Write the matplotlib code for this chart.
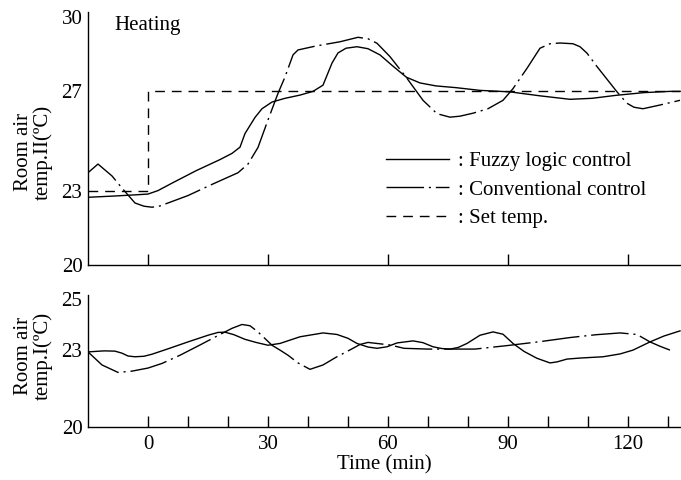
import matplotlib
matplotlib.use("Agg")
import matplotlib.pyplot as plt
from matplotlib.lines import Line2D

plt.rcParams['font.family'] = ['Liberation Serif', 'DejaVu Serif']
plt.rcParams['lines.scale_dashes'] = False

# upper panel: room air temp. II
fuzzy2_t = [-15, -8.5, -3, 0, 2.5, 6, 12, 18, 21, 23, 24.25, 26.75, 28.5, 31, 34.25,
            38, 41.25, 43.75, 46, 47.5, 49.5, 52.25, 55, 58, 61, 64.6, 68, 72, 77,
            83, 90.5, 98, 105.5, 111, 117, 124, 130.5, 133]
fuzzy2_v = [22.73, 22.78, 22.83, 22.86, 23.0, 23.3, 23.8, 24.25, 24.5, 24.75, 25.3,
            25.95, 26.3, 26.57, 26.72, 26.85, 27.0, 27.25, 28.14, 28.55, 28.74, 28.8,
            28.72, 28.47, 28.05, 27.57, 27.34, 27.22, 27.15, 27.04, 26.98, 26.82,
            26.68, 26.72, 26.84, 26.95, 27.0, 27.0]
conv2_t = [-15, -12.5, -9, -6.5, -3.25, -1, 1, 3, 5, 10, 16, 22.5, 25, 27.5, 30, 32.5,
           34.25, 36.25, 37.5, 42, 48, 52.5, 55, 57.25, 60.5, 64.5, 68.75, 72.25,
           75.5, 78, 81.25, 85, 88.75, 91.25, 94.75, 98, 100.5, 103, 106.25, 108,
           109.75, 112.25, 117.25, 119.75, 121.5, 123.75, 128, 133]
conv2_v = [23.72, 24.07, 23.59, 23.1, 22.5, 22.37, 22.33, 22.38, 22.5, 22.8, 23.25,
           23.72, 24.07, 24.74, 25.85, 26.92, 27.58, 28.47, 28.67, 28.83, 29.0, 29.18,
           29.12, 28.94, 28.4, 27.58, 26.64, 26.1, 25.96, 26.0, 26.12, 26.3, 26.64,
           27.11, 27.93, 28.74, 28.92, 28.95, 28.92, 28.8, 28.54, 28.0, 26.98, 26.52,
           26.36, 26.3, 26.45, 26.64]
set_t = [-15, 0, 0, 133]
set_v = [23, 23, 27, 27]

# lower panel: room air temp. I
fuzzy1_t = [-15, -11, -8.25, -6.5, -5, -3.25, -1, 1, 5, 10, 15, 17.5, 19.25, 21.5,
            24.25, 27, 30, 33, 38, 43.75, 47.25, 50, 52.25, 55, 57.25, 59.75, 62.25,
            66.25, 68.75, 71.25, 73.5, 75.5, 77.5, 79.75, 83, 86.25, 88.75, 91.25,
            94, 97.25, 100.5, 102.25, 104.75, 108, 113.75, 118, 121.25, 125.5, 129,
            133]
fuzzy1_v = [22.93, 22.97, 22.96, 22.88, 22.77, 22.74, 22.76, 22.84, 23.05, 23.32,
            23.58, 23.69, 23.7, 23.6, 23.42, 23.3, 23.19, 23.26, 23.52, 23.67, 23.61,
            23.46, 23.26, 23.12, 23.07, 23.13, 23.28, 23.36, 23.29, 23.13, 23.06,
            23.04, 23.1, 23.26, 23.58, 23.71, 23.62, 23.26, 22.95, 22.68, 22.5, 22.54,
            22.65, 22.69, 22.74, 22.85, 23.0, 23.32, 23.55, 23.75]
conv1_t = [-15, -11.5, -7.5, -4, 0, 3.5, 8, 13, 18.5, 21, 23.5, 25.5, 27.5, 31, 33,
           35, 37.5, 40.5, 43.75, 47, 51.25, 53, 55, 60.5, 64, 70, 75, 81.75, 90,
           98, 105.5, 112, 118, 122.25, 125.5, 128, 130.5]
conv1_v = [22.93, 22.42, 22.13, 22.18, 22.3, 22.48, 22.8, 23.2, 23.65, 23.85, 24.0,
           23.95, 23.71, 23.19, 23.0, 22.8, 22.5, 22.25, 22.42, 22.72, 23.07, 23.22,
           23.3, 23.2, 23.07, 23.04, 23.04, 23.04, 23.18, 23.33, 23.49, 23.6, 23.67,
           23.61, 23.32, 23.15, 23.0]

xticks = [0, 30, 60, 90, 120]
minor_ticks = [0, 10, 20, 30, 40, 50, 60, 70, 80, 90, 100, 110, 120, 130]

fs = 15
lw = 1.0
dashdot = (0, (27, 3.5, 1.5, 3.5))
dashed = (0, (7, 5))

fig = plt.figure(figsize=(6.81, 4.80), dpi=100)
ax1 = fig.add_axes([88 / 681, 1 - 265 / 480, 1 - 88 / 681, 253 / 480])
ax2 = fig.add_axes([88 / 681, 1 - 427 / 480, 1 - 88 / 681, 132 / 480])

for ax in (ax1, ax2):
    for s in ('top', 'right'):
        ax.spines[s].set_visible(False)
    for s in ('left', 'bottom'):
        ax.spines[s].set_linewidth(1.0)
    ax.set_xlim(-15, 133.25)
    ax.tick_params(axis='y', length=0, pad=4, labelsize=fs)
    ax.tick_params(axis='x', direction='in', length=8, width=1.0, pad=6, labelsize=fs)

ax1.plot(fuzzy2_t, fuzzy2_v, color='black', lw=lw)
ax1.plot(conv2_t, conv2_v, color='black', lw=lw, linestyle=dashdot)
ax1.plot(set_t, set_v, color='black', lw=lw, linestyle=dashed)
ax1.set_ylim(20, 30.2)
ax1.set_yticks([20, 23, 27, 30])
ax1.set_xticks(xticks)
ax1.set_xticklabels([])
ax1.text(0.045, 0.945, 'Heating', transform=ax1.transAxes, fontsize=fs,
         ha='left', va='center')

handles = [Line2D([], [], color='black', lw=lw),
           Line2D([], [], color='black', lw=lw, linestyle=dashdot),
           Line2D([], [], color='black', lw=lw, linestyle=dashed)]
labels = [': Fuzzy logic control', ': Conventional control', ': Set temp.']
ax1.legend(handles, labels, loc='upper left', bbox_to_anchor=(0.503, 0.448),
           frameon=False, fontsize=fs, handlelength=3.0, handletextpad=0.45,
           labelspacing=0.42, borderpad=0, borderaxespad=0)

ax2.plot(fuzzy1_t, fuzzy1_v, color='black', lw=lw)
ax2.plot(conv1_t, conv1_v, color='black', lw=lw, linestyle=dashdot)
ax2.set_ylim(20, 25.15)
ax2.set_yticks([20, 23, 25])
ax2.set_xticks(minor_ticks)
ax2.set_xticklabels([str(t) if t in xticks else '' for t in minor_ticks])
ax2.set_xlabel('Time (min)', fontsize=fs, labelpad=1)

fig.text(33 / 681, 1 - 152 / 480, 'Room air\ntemp.II(ºC)', rotation=90,
         ha='center', va='center', fontsize=fs, linespacing=1.0)
fig.text(33 / 681, 1 - 356 / 480, 'Room air\ntemp.I(ºC)', rotation=90,
         ha='center', va='center', fontsize=fs, linespacing=1.0)

fig.savefig('out.png', dpi=100)
